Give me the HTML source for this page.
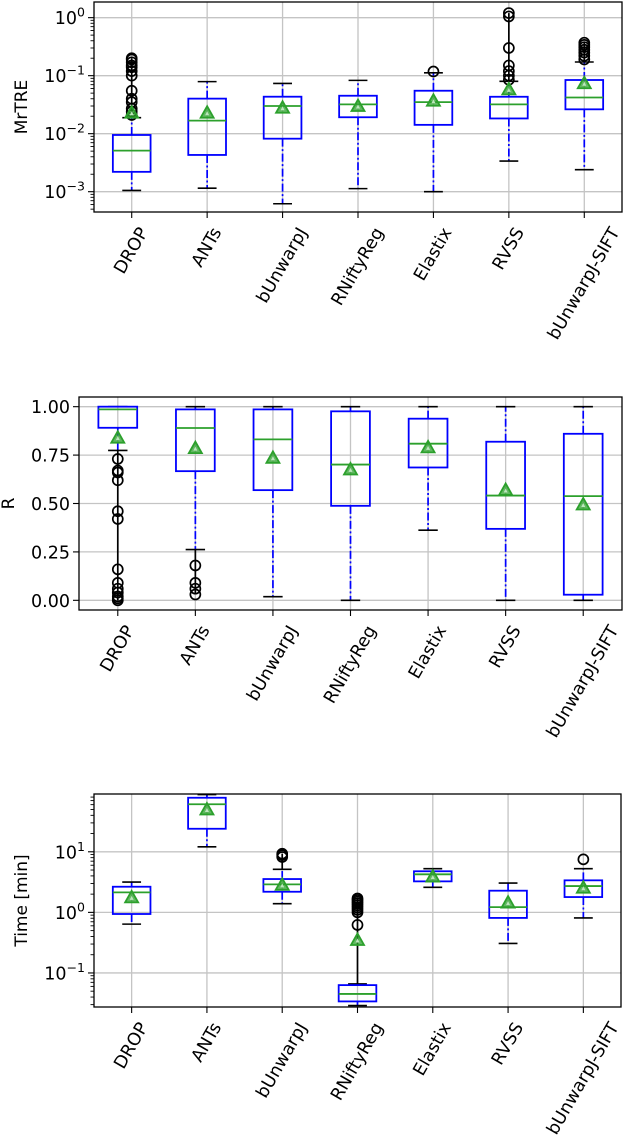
<!DOCTYPE html>
<html><head><meta charset="utf-8">
<style>
html,body{margin:0;padding:0;background:#fff;}
svg{display:block;font-family:"DejaVu Sans","Liberation Sans",sans-serif;}
</style></head>
<body>
<svg id="fig" width="624" height="1140" viewBox="0 0 624 1140" xmlns="http://www.w3.org/2000/svg"></svg>
<script>
const categories = ["DROP","ANTs","bUnwarpJ","RNiftyReg","Elastix","RVSS","bUnwarpJ-SIFT"];

// Panel 1: MrTRE (log)
const mrtreQ1 = [0.0022,0.0043,0.0082,0.0192,0.0142,0.0183,0.0263];
const mrtreMed = [0.0051,0.0168,0.030,0.032,0.035,0.032,0.042];
const mrtreQ3 = [0.0095,0.0402,0.0434,0.0451,0.055,0.0433,0.0842];
const mrtreLo = [0.00105,0.00115,0.00062,0.00113,0.0010,0.00337,0.0024];
const mrtreHi = [0.0189,0.079,0.0735,0.083,0.112,0.080,0.172];
const mrtreMean = [0.023,0.023,0.028,0.030,0.037,0.058,0.074];
const mrtreFliers = [[0.021,0.024,0.027,0.035,0.04,0.055,0.1,0.12,0.14,0.15,0.17,0.19,0.2],[],[],[],[0.118],[0.085,0.1,0.12,0.15,0.3,1.05,1.2],[0.19,0.22,0.25,0.28,0.31,0.34,0.37]];

// Panel 2: R (linear)
const rQ1 = [0.891,0.667,0.569,0.488,0.686,0.369,0.029];
const rMed = [0.986,0.89,0.831,0.701,0.809,0.541,0.538];
const rQ3 = [1.0,0.986,0.986,0.976,0.938,0.819,0.86];
const rLo = [0.774,0.262,0.019,0.0,0.362,0.0,0.0];
const rHi = [1.0,1.0,1.0,1.0,1.0,1.0,1.0];
const rMean = [0.84,0.786,0.736,0.676,0.79,0.57,0.495];
const rFliers = [[0.73,0.67,0.66,0.62,0.46,0.42,0.16,0.09,0.06,0.04,0.02,0.01,0.0],[0.18,0.09,0.06,0.03],[],[],[],[],[]];

// Panel 3: Time (log)
const tQ1 = [0.94,24.0,2.19,0.0339,3.25,0.81,1.79];
const tMed = [2.14,61,2.9,0.045,4.25,1.22,2.72];
const tQ3 = [2.65,78,3.55,0.063,4.77,2.28,3.38];
const tLo = [0.64,12.1,1.39,0.029,2.59,0.307,0.81];
const tHi = [3.17,88,5.13,0.066,5.26,3.05,5.26];
const tMean = [1.77,50,2.85,0.35,3.9,1.45,2.55];
const tFliers = [[],[],[8.2,8.8,9.3],[0.62,1.0,1.1,1.2,1.3,1.4,1.5,1.6,1.7],[],[],[7.5]];

const mrtreTicks = [-3,-2,-1,0];
const rTicks = [0,0.25,0.5,0.75,1.0];
const rTickLabels = ["0.00","0.25","0.50","0.75","1.00"];
const tTicks = [-1,0,1];

const NS = "http://www.w3.org/2000/svg";
const fig = document.getElementById('fig');
function mk(tag, attrs, parent){
  const e = document.createElementNS(NS, tag);
  for (const k in attrs) e.setAttribute(k, attrs[k]);
  (parent||fig).appendChild(e);
  return e;
}

function panel(cfg){
  const g = mk('g', {});
  
  
  const L=cfg.left, R=cfg.right, T=cfg.top, B=cfg.bottom;
  const s=(R-L)/categories.length;
  const xPos = i => L + s*(i+0.5);
  let y;
  if (cfg.log){
    const a=Math.log10(cfg.ymin), b=Math.log10(cfg.ymax);
    y = v => B - (Math.log10(v)-a)/(b-a)*(B-T);
  } else {
    y = v => B - (v-cfg.ymin)/(cfg.ymax-cfg.ymin)*(B-T);
  }
  categories.forEach((c,i)=>{
    const gl = mk('line',{x1:xPos(i),x2:xPos(i),y1:T,y2:B,stroke:'#c4c4c4','stroke-width':1.3},g);
    
    
  });
  const majors = cfg.log ? cfg.ticks.map(p=>Math.pow(10,p)) : cfg.ticks;
  majors.forEach((v,k)=>{
    const yy=y(v);
    const gl = mk('line',{x1:L,x2:R,y1:yy,y2:yy,stroke:'#c4c4c4','stroke-width':1.3},g);
    
    
    mk('line',{x1:L-6,x2:L,y1:yy,y2:yy,stroke:'#000','stroke-width':1.1},g);
    const t = mk('text',{x:L-9,y:yy+6.5,'text-anchor':'end','font-size':17.5,fill:'#000'},g);
    
    
    if (cfg.log){
      const p = cfg.ticks[k];
      t.appendChild(document.createTextNode('10'));
      const sp = mk('tspan',{dy:-7.5,'font-size':12.5},t);
      sp.textContent = p<0 ? '\u2212'+Math.abs(p) : String(p);
    } else {
      t.textContent = cfg.tickLabels[k];
    }
  });
  if (cfg.log){
    const a=Math.floor(Math.log10(cfg.ymin)), b=Math.ceil(Math.log10(cfg.ymax));
    for (let d=a; d<=b; d++) for (let m=2;m<=9;m++){
      const v=m*Math.pow(10,d);
      if (v<cfg.ymin||v>cfg.ymax) continue;
      const yy=y(v);
      mk('line',{x1:L-3.5,x2:L,y1:yy,y2:yy,stroke:'#000','stroke-width':0.9},g);
    }
  }
  const bw=s*0.5, cw=bw*0.5;
  categories.forEach((c,i)=>{
    const cx=xPos(i);
    const bg = mk('g',{},g);
    
    
    mk('line',{x1:cx,x2:cx,y1:y(cfg.q1[i]),y2:y(cfg.lo[i]),stroke:'#0000ff','stroke-width':1.7,'stroke-dasharray':'8 2.5 2 2.5'},bg);
    mk('line',{x1:cx,x2:cx,y1:y(cfg.q3[i]),y2:y(cfg.hi[i]),stroke:'#0000ff','stroke-width':1.7,'stroke-dasharray':'8 2.5 2 2.5'},bg);
    const f = cfg.fliers[i];
    if (f.length){
      const ys=f.map(y);
      const lows = f.filter(v=>v<cfg.lo[i]);
      let top=Math.min(...ys), bot=Math.max(...ys);
      if (f.some(v=>v>cfg.hi[i])) bot=Math.max(bot, y(cfg.hi[i]));
      if (lows.length) top=Math.min(top, y(cfg.lo[i]));
      if (f.length>1 || lows.length) mk('line',{x1:cx,x2:cx,y1:top,y2:bot,stroke:'#000','stroke-width':1.7},bg);
      f.forEach(v=>{
        const c1 = mk('circle',{cx:cx,cy:y(v),r:5,fill:'none',stroke:'#000','stroke-width':1.7},bg);
        
        
      });
    }
    mk('line',{x1:cx-cw/2,x2:cx+cw/2,y1:y(cfg.lo[i]),y2:y(cfg.lo[i]),stroke:'#000','stroke-width':1.6},bg);
    mk('line',{x1:cx-cw/2,x2:cx+cw/2,y1:y(cfg.hi[i]),y2:y(cfg.hi[i]),stroke:'#000','stroke-width':1.6},bg);
    const yq3=y(cfg.q3[i]), yq1=y(cfg.q1[i]);
    mk('rect',{x:cx-bw/2,y:yq3,width:bw,height:yq1-yq3,fill:'none',stroke:'#0000ff','stroke-width':1.8},bg);
    mk('line',{x1:cx-bw/2,x2:cx+bw/2,y1:y(cfg.med[i]),y2:y(cfg.med[i]),stroke:'#2ca02c','stroke-width':1.8},bg);
    const my=y(cfg.mean[i]);
    const tri = mk('polygon',{points:`${cx},${my-6.5} ${cx-6.5},${my+5} ${cx+6.5},${my+5}`,fill:'#2ca02c','fill-opacity':0.75,stroke:'#2ca02c','stroke-width':1.8},bg);
    
    
    mk('polygon',{points:`${cx},${my-1.5} ${cx-2},${my+2.5} ${cx+2},${my+2.5}`,fill:'#bfe6bf'},bg);
    mk('line',{x1:cx,x2:cx,y1:B,y2:B+6,stroke:'#000','stroke-width':1.1},g);
    const lbl = mk('text',{'font-size':17.5,fill:'#000','text-anchor':'end','dominant-baseline':'central'},g);
    
    
    lbl.textContent=c;
    const w = lbl.getComputedTextLength();
    const h = 17.5;
    const px = cx + w/4, py = B + 13 + h/4;
    lbl.setAttribute('x',px); lbl.setAttribute('y',py);
    lbl.setAttribute('transform',`rotate(-60 ${px} ${py})`);
  });
  const sp = mk('rect',{x:L,y:T,width:R-L,height:B-T,fill:'none',stroke:'#000','stroke-width':1.3},g);
  
  
  const yl = mk('text',{x:cfg.ylx,y:(T+B)/2,'text-anchor':'middle','font-size':17,fill:'#000',transform:`rotate(-90 ${cfg.ylx} ${(T+B)/2})`},g);
  
  
  yl.textContent=cfg.ylabel;
}

panel({name:'mrtre-panel',left:94,right:622,top:2,bottom:212,log:true,ymin:Math.pow(10,-3.35),ymax:Math.pow(10,0.27),ticks:mrtreTicks,
  q1:mrtreQ1,med:mrtreMed,q3:mrtreQ3,lo:mrtreLo,hi:mrtreHi,mean:mrtreMean,fliers:mrtreFliers,ylabel:'MrTRE',ylx:27});
panel({name:'r-panel',left:79,right:622,top:397,bottom:610,log:false,ymin:-0.05,ymax:1.05,ticks:rTicks,tickLabels:rTickLabels,
  q1:rQ1,med:rMed,q3:rQ3,lo:rLo,hi:rHi,mean:rMean,fliers:rFliers,ylabel:'R',ylx:14});
panel({name:'time-panel',left:94,right:621,top:794,bottom:1007,log:true,ymin:Math.pow(10,-1.562),ymax:Math.pow(10,1.954),ticks:tTicks,
  q1:tQ1,med:tMed,q3:tQ3,lo:tLo,hi:tHi,mean:tMean,fliers:tFliers,ylabel:'Time [min]',ylx:27});
</script>
</body></html>
